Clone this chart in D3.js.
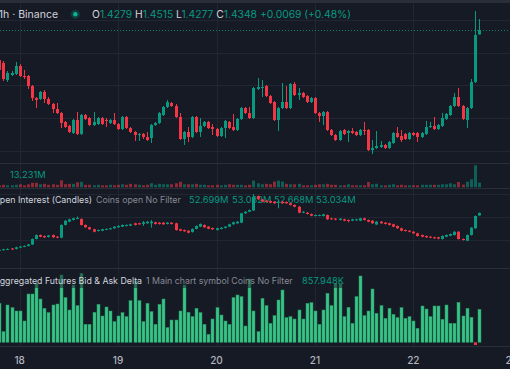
<!DOCTYPE html>
<html><head><meta charset="utf-8">
<script src="https://cdn.jsdelivr.net/npm/d3@7"></script>
<style>
html,body{margin:0;padding:0;background:#161a25;overflow:hidden}
svg{display:block}
text{font-family:Inter,"Noto Sans",sans-serif}
</style></head><body>
<svg id="c" width="510" height="369"></svg>
<script>
// ---------- DATA ----------
const firstCandle = new Date(2025, 0, 17, 19); // hourly candles from here
const dayTicks = [new Date(2025,0,18),new Date(2025,0,19),new Date(2025,0,20),new Date(2025,0,21),new Date(2025,0,22),new Date(2025,0,23)];
const dayLabels = ["18","19","20","21","22","23"];
const priceGrid = [1.25,1.30,1.35,1.40,1.45];
const oiGrid = [49.5,52.5,55.5];

// price candles [open, high, low, close]
const priceOHLC = [
[1.3889,1.3920,1.3706,1.3737],[1.3844,1.3874,1.3569,1.3599],[1.3584,1.3721,1.3553,1.3691],[1.3660,1.3721,1.3645,1.3691],
[1.3676,1.3859,1.3660,1.3798],[1.3798,1.3828,1.3630,1.3645],[1.3645,1.3737,1.3599,1.3630],[1.3645,1.3660,1.3447,1.3492],
[1.3492,1.3508,1.3263,1.3309],[1.3309,1.3324,1.3156,1.3279],[1.3294,1.3416,1.3279,1.3401],[1.3401,1.3431,1.3233,1.3294],
[1.3294,1.3324,1.3202,1.3218],[1.3218,1.3233,1.3080,1.3141],[1.3141,1.3233,1.3065,1.3080],[1.3080,1.3095,1.2851,1.2928],
[1.2943,1.2958,1.2851,1.2866],[1.2882,1.2897,1.2775,1.2790],[1.2775,1.2989,1.2760,1.2973],[1.2973,1.3095,1.2744,1.2760],
[1.2760,1.3065,1.2744,1.3050],[1.3050,1.3065,1.2973,1.2989],[1.3004,1.3019,1.2882,1.2897],[1.2897,1.3095,1.2882,1.2943],
[1.2912,1.3019,1.2897,1.3004],[1.3004,1.3019,1.2897,1.2912],[1.2973,1.3004,1.2866,1.2958],[1.2928,1.2989,1.2912,1.2973],
[1.2973,1.3080,1.2897,1.2912],[1.2912,1.2928,1.2821,1.2836],[1.2836,1.3034,1.2821,1.3019],[1.3019,1.3034,1.2836,1.2851],
[1.2851,1.2866,1.2775,1.2790],[1.2790,1.2805,1.2653,1.2744],[1.2744,1.2775,1.2653,1.2760],[1.2760,1.2775,1.2683,1.2714],
[1.2714,1.2790,1.2653,1.2668],[1.2698,1.2912,1.2622,1.2897],[1.2897,1.2943,1.2882,1.2928],[1.2928,1.3095,1.2912,1.3080],
[1.3050,1.3187,1.3034,1.3172],[1.3172,1.3279,1.3156,1.3248],[1.3233,1.3248,1.3172,1.3187],[1.3187,1.3218,1.3004,1.3019],
[1.3019,1.3080,1.2668,1.2683],[1.2683,1.2805,1.2592,1.2790],[1.2790,1.2866,1.2637,1.2714],[1.2714,1.3034,1.2698,1.3019],
[1.3019,1.3034,1.2775,1.2790],[1.2790,1.3004,1.2714,1.2882],[1.2882,1.2958,1.2866,1.2943],[1.2943,1.2958,1.2836,1.2851],
[1.2866,1.2912,1.2744,1.2836],[1.2836,1.2851,1.2714,1.2729],[1.2729,1.2866,1.2714,1.2851],[1.2851,1.2973,1.2698,1.2958],
[1.2943,1.2958,1.2836,1.2851],[1.2866,1.3065,1.2805,1.2821],[1.2821,1.3004,1.2805,1.2989],[1.2989,1.3172,1.2973,1.3156],
[1.3156,1.3172,1.3065,1.3080],[1.3080,1.3172,1.2989,1.3004],[1.3004,1.3477,1.2989,1.3462],[1.3447,1.3615,1.3431,1.3477],
[1.3462,1.3584,1.3324,1.3477],[1.3492,1.3508,1.3324,1.3340],[1.3340,1.3355,1.3218,1.3233],[1.3248,1.3263,1.2958,1.2973],
[1.2973,1.3172,1.2805,1.3156],[1.3156,1.3538,1.3141,1.3248],[1.3248,1.3492,1.3141,1.3156],[1.3156,1.3538,1.3141,1.3523],
[1.3523,1.3553,1.3340,1.3355],[1.3355,1.3462,1.3279,1.3386],[1.3386,1.3401,1.3309,1.3324],[1.3340,1.3355,1.3233,1.3248],
[1.3248,1.3324,1.3233,1.3309],[1.3309,1.3324,1.3065,1.3080],[1.3080,1.3095,1.2943,1.3034],[1.3034,1.3111,1.2897,1.3095],
[1.3095,1.3111,1.2805,1.2821],[1.2821,1.2836,1.2729,1.2744],[1.2744,1.2760,1.2653,1.2668],[1.2668,1.2821,1.2653,1.2805],
[1.2821,1.2836,1.2744,1.2760],[1.2775,1.2821,1.2637,1.2805],[1.2805,1.2851,1.2760,1.2775],[1.2790,1.2805,1.2729,1.2744],
[1.2744,1.2836,1.2729,1.2821],[1.2821,1.2943,1.2744,1.2805],[1.2821,1.2836,1.2500,1.2515],[1.2515,1.2668,1.2454,1.2546],
[1.2546,1.2805,1.2531,1.2576],[1.2561,1.2653,1.2546,1.2592],[1.2592,1.2607,1.2531,1.2546],[1.2546,1.2653,1.2531,1.2637],
[1.2622,1.2790,1.2607,1.2775],[1.2775,1.2866,1.2698,1.2714],[1.2729,1.2821,1.2637,1.2668],[1.2760,1.2775,1.2668,1.2683],
[1.2683,1.2790,1.2668,1.2775],[1.2775,1.2790,1.2729,1.2744],[1.2775,1.2790,1.2637,1.2714],[1.2714,1.2790,1.2698,1.2775],
[1.2760,1.2958,1.2744,1.2866],[1.2866,1.2943,1.2851,1.2882],[1.2882,1.3019,1.2821,1.2836],[1.2836,1.2912,1.2821,1.2897],
[1.2882,1.3080,1.2866,1.3004],[1.2989,1.3080,1.2973,1.3065],[1.3050,1.3202,1.3034,1.3187],[1.3187,1.3386,1.3172,1.3324],
[1.3324,1.3462,1.3172,1.3187],[1.3187,1.3202,1.2973,1.2989],[1.2973,1.3172,1.2851,1.3156],[1.3156,1.3599,1.3141,1.3553],
[1.3553,1.4637,1.3538,1.4271],[1.4279,1.4515,1.4277,1.4348]
];

// volume, millions
const volume = [
5.7,7.2,5.7,5.7,7.2,8.6,5.7,8.6,12.9,12.9,8.6,10.0,7.2,8.6,7.2,20.1,8.6,10.0,10.0,14.4,
15.8,7.2,7.2,5.7,7.2,5.7,5.7,7.2,5.7,7.2,8.6,7.2,10.0,8.6,7.2,5.7,7.2,11.5,7.2,10.0,
8.6,8.6,8.6,11.5,15.8,8.6,8.6,8.6,10.0,7.2,7.2,5.7,5.7,7.2,5.7,7.2,8.6,7.2,7.2,7.2,
5.7,7.2,19.2,11.5,8.6,10.0,8.6,16.4,19.2,16.4,10.0,8.6,8.6,10.0,5.7,5.7,5.7,7.2,8.6,8.6,
10.0,7.2,7.2,5.7,5.7,8.6,5.7,5.7,5.7,5.7,15.2,8.6,10.0,5.7,5.7,7.2,8.6,5.7,7.2,5.7,
5.7,5.7,5.7,7.2,7.2,7.2,7.2,7.2,8.6,8.6,11.5,8.6,15.2,7.7,16.1,23.0,63.1,13.231
];

// open interest candles, millions [open, high, low, close]
const oiOHLC = [
[48.20,48.30,48.12,48.22],[48.22,48.36,48.15,48.29],[48.26,48.40,48.19,48.33],[48.39,48.45,48.24,48.30],
[48.33,48.62,48.27,48.55],[48.55,48.70,48.49,48.63],[48.63,48.79,48.57,48.72],[48.72,48.98,48.66,48.91],
[48.91,49.70,48.84,49.63],[49.63,50.22,49.57,50.15],[50.15,50.22,49.86,49.93],[50.02,50.09,49.78,49.85],
[49.89,50.16,49.82,50.09],[50.15,50.22,49.78,49.85],[49.93,50.00,49.73,49.80],[49.80,51.53,49.74,51.46],
[51.46,52.09,51.40,52.02],[51.89,52.27,51.83,52.20],[52.11,52.40,52.05,52.33],[52.30,52.57,52.24,52.37],
[52.24,52.31,51.39,51.46],[51.46,51.53,51.09,51.16],[51.16,51.23,50.83,50.90],[50.90,50.97,50.51,50.58],
[50.67,50.87,50.61,50.80],[50.71,50.97,50.65,50.90],[50.87,51.01,50.81,50.94],[50.90,51.10,50.84,51.03],
[51.03,51.31,50.97,51.24],[51.16,51.40,51.10,51.33],[51.24,51.53,51.18,51.46],[51.33,51.53,51.27,51.46],
[51.37,51.62,51.31,51.55],[51.68,51.75,51.39,51.46],[51.68,51.75,51.48,51.55],[51.59,51.98,51.33,51.81],
[51.68,51.96,51.62,51.89],[51.68,52.11,51.10,51.89],[51.81,51.88,51.52,51.59],[51.76,51.83,51.52,51.59],
[51.76,51.83,51.48,51.55],[51.59,51.83,51.53,51.76],[51.76,51.83,51.52,51.59],[51.68,51.75,50.73,50.80],
[50.90,50.97,50.64,50.71],[50.80,50.87,50.57,50.64],[50.71,50.78,50.38,50.45],[50.54,51.01,50.47,50.94],
[50.94,51.40,50.88,51.33],[51.24,51.66,51.18,51.59],[51.46,51.53,51.09,51.16],[51.24,51.31,50.90,50.97],
[51.07,51.14,50.83,50.90],[50.80,51.10,50.74,51.03],[50.94,51.17,50.88,51.10],[51.07,51.31,51.01,51.24],
[51.24,51.62,51.18,51.55],[51.55,51.88,51.49,51.81],[51.68,51.96,51.62,51.89],[51.76,53.05,51.70,52.98],
[52.98,53.26,52.92,53.19],[53.19,53.48,53.13,53.41],[53.35,55.50,53.29,55.11],[55.24,55.31,54.74,54.81],
[54.78,54.85,54.43,54.50],[54.63,54.70,54.39,54.46],[54.59,54.66,54.30,54.37],[54.50,54.57,54.22,54.29],
[54.37,54.72,53.63,54.50],[54.50,54.57,54.22,54.29],[54.46,54.53,54.22,54.29],[54.29,54.36,54.00,54.07],
[54.07,54.14,53.77,53.84],[53.84,53.91,52.99,53.06],[53.06,53.26,53.00,53.19],[53.06,53.13,52.82,52.89],
[52.89,52.96,52.60,52.67],[52.63,52.83,52.57,52.76],[52.67,52.83,52.61,52.76],[52.63,52.92,52.57,52.85],
[52.76,52.83,52.13,52.20],[52.33,52.40,52.13,52.20],[52.28,52.35,52.08,52.15],[52.11,52.35,52.05,52.28],
[52.20,52.27,51.95,52.02],[52.11,52.18,51.81,51.98],[52.02,52.27,51.96,52.20],[52.07,52.27,52.01,52.20],
[52.02,52.40,51.96,52.33],[52.33,52.40,52.04,52.11],[52.11,52.18,51.82,51.89],[52.02,52.09,51.61,51.68],
[51.52,51.96,51.46,51.89],[51.89,51.96,51.61,51.68],[51.76,51.83,51.52,51.59],[51.68,51.75,51.39,51.46],
[51.55,51.62,51.17,51.24],[51.33,51.40,50.96,51.03],[51.03,51.10,50.64,50.71],[50.80,50.87,50.60,50.67],
[50.71,50.78,50.51,50.58],[50.58,50.65,50.30,50.37],[50.37,50.44,49.95,50.02],[50.15,50.22,49.86,49.93],
[50.02,50.09,49.78,49.85],[49.93,50.00,49.73,49.80],[49.85,49.92,49.65,49.72],[49.85,49.92,49.60,49.67],
[49.63,50.09,49.56,50.02],[49.93,50.22,49.87,50.15],[50.06,50.35,50.00,50.28],[50.15,50.65,50.09,50.58],
[50.58,50.65,49.56,49.63],[49.63,49.70,49.43,49.50],[49.41,50.22,49.35,50.15],[50.15,51.17,50.09,51.10],
[51.03,52.70,50.97,52.63],[52.699,53.082,52.668,53.034]
];

// aggregated bid & ask delta, thousands
const delta = [
1014,278,970,902,814,814,554,1256,1256,1534,1126,884,772,970,996,1750,1162,840,1490,954,
1794,468,468,780,988,684,918,814,538,684,772,668,1084,1594,1084,538,1014,798,468,988,
1126,382,580,580,814,1490,780,668,884,772,468,208,606,902,710,554,468,1162,1230,1188,
424,1646,814,278,1144,954,494,694,1100,1360,642,668,606,840,606,1014,1032,814,468,840,
1274,954,1534,1534,668,910,494,1188,1724,694,814,1386,754,954,624,884,728,642,902,624,
668,554,364,944,866,668,944,944,598,970,494,494,1040,684,884,650,-70,857.948
];

// ---------- DRAW ----------
const W = 510, H = 369;
const C = {bg:"#161a25", grid:"#222633", sep:"#2a2e39", up:"#089981", dn:"#f23645",
  text:"#d1d4dc", mute:"#868993", val:"#089981"};
const LF = 9.3;  // legend numbers
const WF = 8.8;  // legend words
const svg = d3.select("#c");
svg.append("rect").attr("width",W).attr("height",H).attr("fill",C.bg);

const times = priceOHLC.map((d,i)=>d3.timeHour.offset(firstCandle,i));
const x = d3.scaleTime().domain([dayTicks[0],dayTicks[4]]).range([19.7,413.3]);
const yP = d3.scaleLinear().domain([1.25,1.45]).range([151,20]);
const yV = d3.scaleLinear().domain([0,63.1]).range([187.3,165.3]);
const yOI = d3.scaleLinear().domain([49.5,52.5]).range([240,217]);
const yD = d3.scaleLinear().domain([0,857.948]).range([342.3,309.3]);
const cx = t => Math.round(x(t));

svg.append("rect").attr("x",0).attr("y",0).attr("width",W).attr("height",3).attr("fill","#2a2e39");

const g = svg.append("g");
g.selectAll("line.v").data(dayTicks).join("line")
  .attr("x1",d=>Math.round(x(d))+0.5).attr("x2",d=>Math.round(x(d))+0.5)
  .attr("y1",3).attr("y2",346).attr("stroke",C.grid).attr("stroke-width",1);
g.selectAll("line.hp").data(priceGrid).join("line")
  .attr("x1",0).attr("x2",W).attr("y1",d=>Math.round(yP(d))+0.5).attr("y2",d=>Math.round(yP(d))+0.5)
  .attr("stroke",C.grid);
g.selectAll("line.ho").data(oiGrid).join("line")
  .attr("x1",0).attr("x2",W).attr("y1",d=>Math.round(yOI(d))+0.5).attr("y2",d=>Math.round(yOI(d))+0.5)
  .attr("stroke",C.grid);
[163,188,268,346].forEach(y=>svg.append("line").attr("x1",0).attr("x2",W)
  .attr("y1",y+0.5).attr("y2",y+0.5).attr("stroke",C.sep).attr("stroke-width",1));

const last = priceOHLC[priceOHLC.length-1];
svg.append("line").attr("x1",0).attr("x2",W)
  .attr("y1",Math.round(yP(last[3]))+0.5).attr("y2",Math.round(yP(last[3]))+0.5)
  .attr("stroke","#0b7d6a").attr("stroke-width",1).attr("stroke-dasharray","1,2");

function candles(sel, data, yS){
  const gg = sel.append("g");
  data.forEach((d,i)=>{
    const up = d[3] >= d[0];
    const col = up ? C.up : C.dn;
    const X = cx(times[i]);
    gg.append("line").attr("x1",X+0.5).attr("x2",X+0.5)
      .attr("y1",yS(d[1])).attr("y2",yS(d[2])).attr("stroke",col).attr("stroke-width",1);
    const y0 = yS(Math.max(d[0],d[3])), y1 = yS(Math.min(d[0],d[3]));
    gg.append("rect").attr("x",X-1).attr("width",3)
      .attr("y",y0).attr("height",Math.max(1,y1-y0)).attr("fill",col);
  });
}
candles(svg, priceOHLC, yP);

svg.append("g").selectAll("rect").data(volume).join("rect")
  .attr("x",(d,i)=>cx(times[i])-1).attr("width",3)
  .attr("y",d=>yV(d)).attr("height",d=>yV(0)-yV(d))
  .attr("fill",(d,i)=>priceOHLC[i][3]>=priceOHLC[i][0]?"rgba(8,153,129,0.55)":"rgba(242,54,69,0.55)");

// OI legend (drawn before OI candles)
svg.append("text").attr("x",92).attr("y",203).attr("text-anchor","end").attr("font-size",WF)
  .attr("fill",C.text).text("Open Interest (Candles)");
svg.append("text").attr("x",96).attr("y",203).attr("font-size",WF).attr("fill",C.mute).text("Coins open No Filter");
const oiLast = oiOHLC[oiOHLC.length-1];
[[189,oiLast[0]],[232,oiLast[1]],[274,oiLast[2]],[316,oiLast[3]]].forEach(([xx,v])=>
  svg.append("text").attr("x",xx).attr("y",203).attr("font-size",LF).attr("fill",C.val).text(v.toFixed(3)+"M"));

candles(svg, oiOHLC, yOI);

svg.append("g").selectAll("rect").data(delta).join("rect")
  .attr("x",(d,i)=>cx(times[i])-1).attr("width",3)
  .attr("y",d=>Math.min(yD(d),yD(0))).attr("height",d=>Math.max(1,Math.abs(yD(d)-yD(0))))
  .attr("fill",d=>d>=0?"#38c486":"#f23645").attr("stroke",d=>d>=0?"#24915f":"none").attr("stroke-width",0.5);

svg.append("rect").attr("x",0).attr("y",273).attr("width",346).attr("height",15).attr("fill",C.bg).attr("opacity",0.5);
svg.append("text").attr("x",142).attr("y",284).attr("text-anchor","end").attr("font-size",WF)
  .attr("fill",C.text).text("Aggregated Futures Bid & Ask Delta");
svg.append("text").attr("x",146).attr("y",284).attr("font-size",WF).attr("fill",C.mute).text("1 Main chart symbol Coins No Filter");
svg.append("text").attr("x",302).attr("y",284).attr("font-size",LF).attr("fill",C.val)
  .text(d3.format(".3f")(delta[delta.length-1])+"K");

svg.append("text").attr("x",10).attr("y",178).attr("font-size",LF).attr("fill",C.val)
  .text(d3.format(".3f")(volume[volume.length-1])+"M");

svg.append("text").attr("x",58).attr("y",18).attr("text-anchor","end").attr("font-size",10.5)
  .attr("fill",C.text).text("1h · Binance");
svg.append("circle").attr("cx",75.3).attr("cy",14.3).attr("r",4.6).attr("fill","rgba(8,153,129,0.25)");
svg.append("circle").attr("cx",75.3).attr("cy",14.3).attr("r",2.2).attr("fill","#0bb394");
const chg = last[3]-last[0];
const t = svg.append("text").attr("x",92).attr("y",18).attr("font-size",10.3);
[["O",C.text],[last[0].toFixed(4),C.val],[" H",C.text],[last[1].toFixed(4),C.val],
 [" L",C.text],[last[2].toFixed(4),C.val],[" C",C.text],[last[3].toFixed(4),C.val],
 [" +"+chg.toFixed(4)+" (+"+(chg/last[0]*100).toFixed(2)+"%)",C.val]]
 .forEach(([s,c])=>t.append("tspan").attr("fill",c).text(s));

svg.append("g").selectAll("text").data(dayTicks).join("text")
  .attr("x",d=>x(d)).attr("y",364).attr("text-anchor","middle").attr("font-size",10)
  .attr("font-weight",500).attr("fill","#b2b5be").text((d,i)=>dayLabels[i]);
</script>
</body></html>
